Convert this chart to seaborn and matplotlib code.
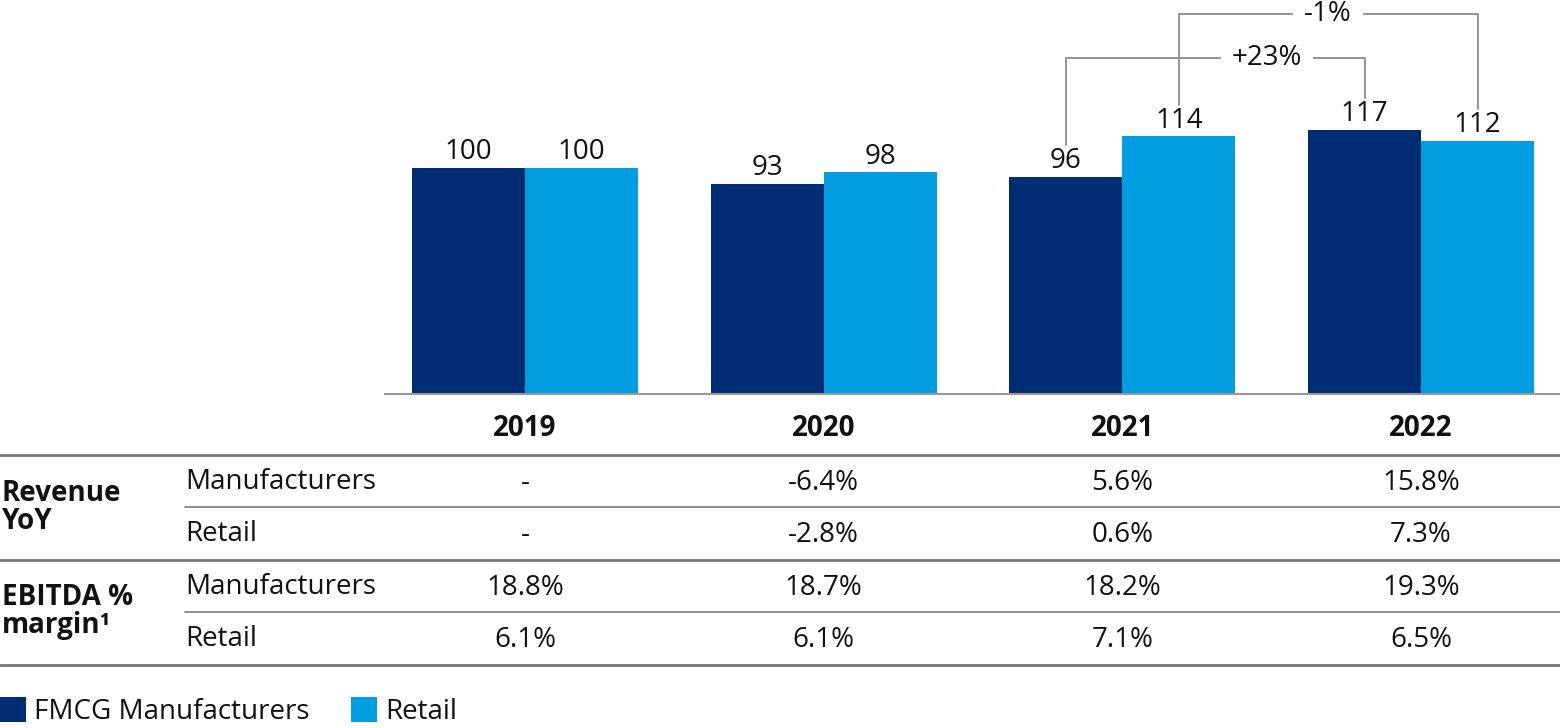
import numpy as np
import pandas as pd
import matplotlib.pyplot as plt
import matplotlib.transforms as mtransforms
import seaborn as sns

# Chart data
years = ['2019', '2020', '2021', '2022']
series_names = ['FMCG Manufacturers', 'Retail']
manufacturers = [100, 93, 96, 117]
retail = [100, 98, 114, 112]

# Table below the chart
rev_manu = ['-', '-6.4%', '5.6%', '15.8%']
rev_retail = ['-', '-2.8%', '0.6%', '7.3%']
ebitda_manu = ['18.8%', '18.7%', '18.2%', '19.3%']
ebitda_retail = ['6.1%', '6.1%', '7.1%', '6.5%']

# Growth brackets 2021 -> 2022
growth_manu = '+23%'
growth_retail = '-1%'

DARK = '#002D74'
LIGHT = '#009EE0'
LINE = '#777777'
TXT = '#111111'
FS = 20

sns.set_style('white')
plt.rcParams['font.family'] = ['Open Sans', 'DejaVu Sans']

df = pd.DataFrame({
    'year': years * 2,
    'series': [series_names[0]] * len(years) + [series_names[1]] * len(years),
    'value': manufacturers + retail,
})

W, H = 1560, 728
fig = plt.figure(figsize=(W / 100, H / 100), dpi=100)
ax = fig.add_axes([385 / W, (H - 394) / H, (W - 385) / W, 394 / H])

sns.barplot(data=df, x='year', y='value', hue='series', palette=[DARK, LIGHT],
            saturation=1, width=0.757, linewidth=0, ax=ax)
handles, labels = ax.get_legend_handles_labels()
ax.get_legend().remove()

ax.set_xlim(-0.469, 3.465)
ax.set_ylim(0, 174.3)
ax.set_xlabel('')
ax.set_ylabel('')
ax.set_yticks([])
sns.despine(ax=ax, left=True)
ax.spines['bottom'].set_color('#999999')
ax.spines['bottom'].set_linewidth(1.5)
ax.tick_params(axis='x', length=0, pad=14.5, labelsize=FS, labelcolor=TXT)
for t in ax.get_xticklabels():
    t.set_fontweight('bold')

for c in ax.containers:
    ax.bar_label(c, padding=1.2, fontsize=FS, color=TXT)

# Growth brackets
bar_off = 0.757 / 4
def bracket(i0, v0, i1, v1, top, label, text_x):
    ax.plot([i0, i0, i1, i1], [v0 + 14, top, top, v1 + 14], color='#8a8a8a',
            lw=1.3, clip_on=False, zorder=1)
    ax.text(text_x, top, label, ha='center', va='center', fontsize=FS, color=TXT,
            bbox=dict(boxstyle='square,pad=0.4', fc='white', ec='none'), zorder=2)

bracket(2 - bar_off, manufacturers[2], 3 - bar_off, manufacturers[3], 148.7, growth_manu, 2.484)
bracket(2 + bar_off, retail[2], 3 + bar_off, retail[3], 168.1, growth_retail, 2.689)

# Table in pixel coordinates
tab = fig.add_axes([0, 0, 1, 1])
tab.set_xlim(0, W)
tab.set_ylim(H, 0)
tab.axis('off')
trans = mtransforms.blended_transform_factory(ax.transData, tab.transData)

for y in [455, 560, 665]:
    tab.plot([0, W], [y, y], color=LINE, lw=2)
for y in [507, 612]:
    tab.plot([185, W], [y, y], color=LINE, lw=1.2)

rows = [('Manufacturers', rev_manu, 490), ('Retail', rev_retail, 542),
        ('Manufacturers', ebitda_manu, 595), ('Retail', ebitda_retail, 647)]
for name, vals, yb in rows:
    tab.text(185, yb - 1, name, ha='left', va='baseline', fontsize=FS, color=TXT)
    for i, v in enumerate(vals):
        tab.text(i, yb, v, ha='center', va='baseline', fontsize=FS, color=TXT,
                 transform=trans)

for text, yb in [('Revenue', 501), ('YoY', 529), ('EBITDA %', 605), ('margin\u00b9', 633)]:
    tab.text(2, yb, text, ha='left', va='baseline', fontsize=FS, fontweight='bold', color=TXT)

fig.legend(handles, labels, loc='upper left', bbox_to_anchor=(0, 31 / H), ncol=2,
           frameon=False, fontsize=FS, borderpad=0, borderaxespad=0,
           handlelength=0.92, handleheight=1.0, handletextpad=0.3, columnspacing=1.5,
           labelcolor=TXT)

fig.savefig('out.png', dpi=100)
